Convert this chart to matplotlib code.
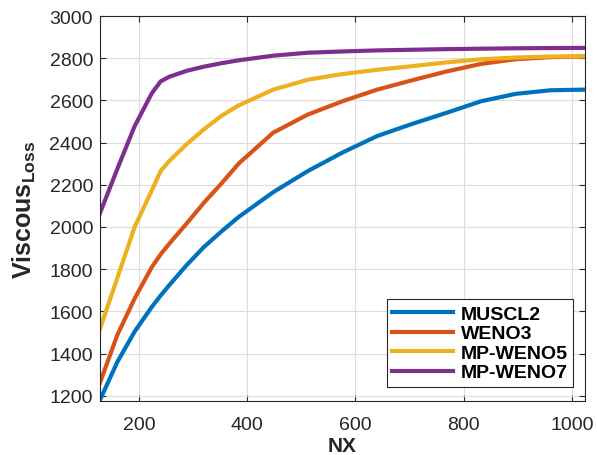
import matplotlib
matplotlib.use("Agg")
import matplotlib.pyplot as plt

plt.rcParams["font.family"] = ["Liberation Sans", "DejaVu Sans"]
plt.rcParams["mathtext.fontset"] = "custom"
plt.rcParams["mathtext.bf"] = "Liberation Sans:bold"
plt.rcParams["mathtext.rm"] = "Liberation Sans"

# values
NX = [128, 160, 192, 224, 240, 256, 288, 320, 352, 384, 448, 512,
      576, 640, 704, 768, 832, 896, 960, 1024]
MUSCL2 = [1180, 1360, 1504, 1622, 1675, 1724, 1819, 1905, 1978, 2047, 2165, 2265,
          2353, 2431, 2488, 2541, 2596, 2631, 2648, 2651]
WENO3 = [1262, 1488, 1661, 1811, 1870, 1921, 2016, 2115, 2205, 2300, 2447, 2533,
         2596, 2651, 2695, 2737, 2773, 2795, 2805, 2808]
MP_WENO5 = [1518, 1758, 2000, 2175, 2265, 2313, 2392, 2463, 2526, 2576, 2651, 2698,
            2725, 2745, 2762, 2780, 2795, 2803, 2808, 2809]
MP_WENO7 = [2066, 2275, 2478, 2635, 2690, 2712, 2740, 2760, 2776, 2790, 2812, 2826,
            2832, 2837, 2840, 2843, 2845, 2847, 2848, 2849]

SERIES = [
    ("MUSCL2", MUSCL2, "#0072BD"),
    ("WENO3", WENO3, "#D95319"),
    ("MP-WENO5", MP_WENO5, "#EDB120"),
    ("MP-WENO7", MP_WENO7, "#7E2F8E"),
]

AXIS_GRAY = "#262626"

fig = plt.figure(figsize=(5.97, 4.56), dpi=100)
ax = fig.add_axes([0.1675, 0.1184, 0.8124, 0.8443])

for label, values, color in SERIES:
    ax.plot(NX, values, color=color, linewidth=3.0, label=label,
            solid_joinstyle="round")

ax.set_xlim(128, 1024)
ax.set_ylim(1175, 3000)
ax.set_xticks([200, 400, 600, 800, 1000])
ax.set_yticks(range(1200, 3001, 200))
ax.grid(True, color="#dddddd", linewidth=0.8)
ax.set_axisbelow(True)

ax.tick_params(direction="in", length=4, width=0.8, top=True, right=True,
               labelsize=14, colors=AXIS_GRAY)
ax.tick_params(axis="x", pad=11)
ax.tick_params(axis="y", pad=5)
for spine in ax.spines.values():
    spine.set_color(AXIS_GRAY)
    spine.set_linewidth(0.8)

ax.set_xlabel("NX", fontsize=15, fontweight="bold", color=AXIS_GRAY, labelpad=2)
ax.set_ylabel(r"$\mathbf{Viscous_{Loss}}$", fontsize=18, color=AXIS_GRAY, labelpad=8)

legend = ax.legend(loc="lower right", bbox_to_anchor=(0.976, 0.0356),
                   borderaxespad=0, fancybox=False, framealpha=1,
                   prop={"weight": "bold", "size": 14},
                   handlelength=3.1, handletextpad=0.4, labelspacing=0.1,
                   borderpad=0.3)
legend.get_frame().set_edgecolor(AXIS_GRAY)
legend.get_frame().set_linewidth(0.8)

fig.savefig("out.png", dpi=100)
